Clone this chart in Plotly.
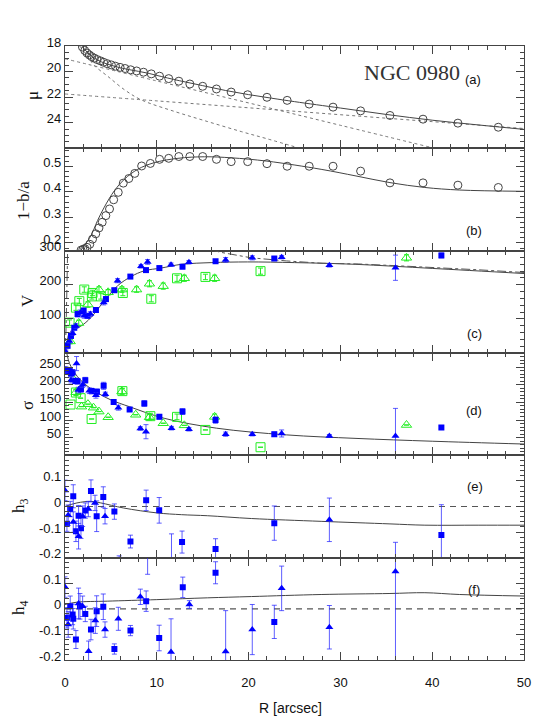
import plotly.graph_objects as go
from plotly.subplots import make_subplots

# ---------------- (a) surface brightness ----------------
mu_r = [1.9, 2.15, 2.4, 2.65, 2.9, 3.2, 3.5, 3.85, 4.2, 4.6, 5.05, 5.5, 6.0, 6.55, 7.15,
        7.8, 8.55, 9.4, 10.3, 11.3, 12.4, 13.6, 15.0, 16.5, 18.1, 19.9, 22.0, 24.2, 26.6,
        29.2, 32.2, 35.4, 39.0, 42.8, 47.2]
mu_obs = [18.08, 18.35, 18.55, 18.70, 18.83, 18.95, 19.06, 19.16, 19.27, 19.38, 19.48, 19.58,
          19.67, 19.76, 19.86, 19.95, 20.05, 20.18, 20.36, 20.55, 20.75, 20.97, 21.15, 21.36,
          21.60, 21.81, 22.01, 22.25, 22.54, 22.78, 23.07, 23.43, 23.72, 24.03, 24.35]
mu_tot_r = [1.4, 1.9, 2.5, 3.0, 4.0, 5.0, 6.0, 7.0, 8.0, 9.0, 10.0, 12.5, 15.0, 17.5, 20.0,
            22.5, 25.0, 30.0, 35.0, 40.0, 45.0, 50.0]
mu_tot = [17.6, 18.05, 18.55, 18.85, 19.25, 19.5, 19.7, 19.85, 19.98, 20.12, 20.3, 20.72,
          21.1, 21.48, 21.8, 22.08, 22.35, 22.85, 23.35, 23.8, 24.17, 24.52]
bulge_r = [1.6, 2.4, 3.19, 4.64, 6.46, 8.28, 11.9, 15.5, 19.2, 22.0, 25.6]
bulge_mu = [18.0, 18.75, 19.52, 20.36, 21.41, 22.2, 23.11, 23.9, 24.69, 25.25, 26.0]
inner_r = [0.0, 10.1, 20.0, 30.0, 40.0]
inner_mu = [19.0, 20.75, 22.45, 24.2, 25.95]
outer_r = [0.0, 10.0, 24.6, 39.2, 50.0]
outer_mu = [21.75, 22.29, 23.08, 23.87, 24.45]

# ---------------- (b) ellipticity ----------------
ell_r = [1.75, 1.95, 2.15, 2.4, 2.7, 3.0, 3.35, 3.7, 4.05, 4.45, 4.85, 5.3, 5.8, 6.35, 6.95,
         7.6, 8.35, 9.3, 10.3, 11.3, 12.4, 13.6, 15.0, 16.5, 18.1, 19.9, 22.0, 24.2, 26.6,
         29.2, 32.2, 35.4, 39.0, 42.8, 47.2]
ell_obs = [0.172, 0.175, 0.178, 0.183, 0.195, 0.215, 0.236, 0.259, 0.281, 0.307, 0.333, 0.369,
           0.398, 0.434, 0.452, 0.472, 0.501, 0.511, 0.527, 0.531, 0.538, 0.538, 0.538, 0.527,
           0.518, 0.518, 0.51, 0.50, 0.50, 0.50, 0.481, 0.435, 0.435, 0.426, 0.417]
ell_mod_r = [1.7, 2.1, 2.83, 3.55, 4.28, 5.37, 6.46, 7.92, 9.73, 12.3, 15.2, 18.1, 22.0, 27.9,
             31.7, 35.4, 39.2, 43.0, 50.0]
ell_mod = [0.17, 0.19, 0.229, 0.288, 0.34, 0.404, 0.449, 0.488, 0.514, 0.531, 0.537, 0.533,
           0.52, 0.488, 0.462, 0.436, 0.417, 0.407, 0.402]

# ---------------- (c) rotation velocity ----------------
v_sq_r = [0.28, 0.65, 1.01, 1.37, 2.03, 2.46, 3.37, 4.46, 5.37, 7.12, 8.82, 10.28, 12.8, 16.4, 22.8, 41.0]
v_sq = [21, 50, 74, 114, 124, 109, 126, 158, 184, 224, 243, 249, 253, 269, 277, 286]
v_sq_err = [5, 6, 6, 8, 8, 7, 7, 7, 6, 5, 5, 5, 6, 5, 5, 7]
v_tr_r = [0.1, 0.47, 0.83, 1.19, 1.66, 2.1, 2.76, 4.21, 5.73, 8.28, 9.0, 11.55, 13.5, 17.5, 20.4, 23.6, 28.8, 36.0]
v_tr = [3, 35, 58, 79, 118, 109, 114, 148, 212, 254, 267, 259, 266, 273, 279, 281, 257, 250]
v_tr_err = [6, 6, 6, 7, 8, 7, 7, 7, 6, 5, 7, 5, 5, 7, 6, 5, 5, 37]
vg_sq_r = [0.5, 1.19, 1.56, 2.1, 2.93, 3.0, 3.9, 6.3, 9.4, 12.2, 15.3, 21.3]
vg_sq = [89, 133, 152, 186, 166, 176, 166, 176, 159, 219, 223, 240]
vg_sq_err = [8, 8, 8, 8, 8, 8, 8, 8, 9, 9, 8, 9]
vg_tr_r = [0.57, 1.5, 2.5, 3.7, 4.7, 6.2, 7.8, 9.2, 10.7, 13.0, 16.3, 37.2]
vg_tr = [34, 88, 142, 186, 178, 186, 186, 203, 196, 219, 219, 279]
vg_tr_err = [7, 8, 8, 8, 8, 8, 8, 9, 9, 9, 9, 9]
v_mod_r = [0.0, 0.2, 0.47, 1.0, 1.74, 2.83, 4.28, 5.73, 7.19, 8.64, 10.46, 12.7, 16.0, 19.9,
           25.0, 31.6, 40.0, 50.0]
v_mod = [0, 30, 58, 70, 79, 104, 153, 197, 224, 241, 249, 260, 265, 267, 265, 260, 248, 233]
v_circ_r = [0.0, 0.1, 0.2, 0.3, 15.5, 17.0, 20.3, 24.1, 28.0, 32.0, 36.0, 40.0, 45.0, 50.0]
v_circ = [0, 60, 180, 320, 305, 295, 279, 270, 263, 261, 256, 251, 244, 236]

# ---------------- (d) velocity dispersion ----------------
s_sq_r = [0.28, 0.5, 0.65, 0.83, 1.12, 1.37, 1.74, 2.21, 2.9, 3.48, 4.21, 5.3, 7.04, 8.64,
          10.28, 12.8, 16.4, 22.8, 41.0]
s_sq = [240, 238, 232, 235, 211, 210, 187, 213, 182, 180, 197, 151, 130, 147, 109, 124, 100, 60, 79]
s_sq_err = [8, 8, 8, 8, 8, 8, 8, 8, 8, 8, 10, 6, 5, 8, 6, 8, 9, 6, 4]
s_tr_r = [0.1, 0.65, 1.26, 1.45, 1.92, 2.65, 3.37, 4.39, 5.81, 8.21, 8.82, 11.6, 13.5, 17.5,
          20.4, 23.6, 28.8, 36.0]
s_tr = [243, 213, 260, 185, 200, 183, 170, 173, 135, 76, 67, 77, 74, 60, 60, 62, 55, 55]
s_tr_err = [8, 8, 20, 8, 8, 8, 8, 6, 7, 5, 20, 5, 5, 6, 5, 10, 4, 78]
sg_sq_r = [0.6, 1.19, 1.7, 2.9, 6.25, 9.3, 12.2, 15.3, 21.3]
sg_sq = [144, 178, 162, 103, 182, 111, 109, 72, 23]
sg_sq_err = [0, 8, 0, 0, 8, 8, 8, 0, 0]
sg_tr_r = [0.9, 1.2, 1.8, 2.5, 3.1, 3.7, 4.7, 6.2, 7.7, 9.2, 10.7, 13.0, 16.3, 37.2]
sg_tr = [216, 179, 138, 145, 135, 124, 108, 181, 115, 108, 91, 85, 109, 86]
sg_tr_err = [0, 8, 0, 0, 0, 0, 0, 8, 0, 8, 0, 0, 8, 0]
s_mod_r = [0.19, 0.5, 1.33, 2.5, 3.6, 5.0, 7.0, 10.8, 16.5, 24.1, 31.7, 40.0, 50.0]
s_mod = [290, 260, 224, 195, 176, 157, 138, 105, 77, 58, 48, 40, 32]

# ---------------- (e) h3 ----------------
h3_sq_r = [0.21, 0.57, 0.9, 1.19, 1.48, 1.74, 2.21, 2.83, 3.45, 4.17, 5.38, 7.13, 8.84, 10.26,
           12.75, 16.4, 22.8, 41.0]
h3_sq = [-0.067, -0.01, 0.04, -0.097, -0.036, -0.085, -0.016, 0.061, -0.038, 0.037, -0.02,
         -0.137, 0.024, -0.015, -0.139, -0.166, -0.065, -0.111]
h3_sq_err = [0.03, 0.03, 0.045, 0.04, 0.04, 0.04, 0.03, 0.043, 0.06, 0.04, 0.03, 0.025, 0.04,
             0.05, 0.043, 0.04, 0.067, 0.118]
h3_tr_r = [0.0, 0.35, 0.9, 1.48, 1.92, 2.54, 3.27, 4.36, 5.9, 11.6, 28.8, 36.0]
h3_tr = [0.063, -0.034, -0.061, -0.116, -0.038, -0.01, 0.014, -0.038, -0.26, -0.28, -0.052, -0.33]
h3_tr_err = [0.04, 0.04, 0.04, 0.05, 0.04, 0.03, 0.03, 0.03, 0.067, 0.173, 0.085, 0.19]
h3_mod_r = [0.0, 1.3, 2.83, 3.9, 6.4, 10.0, 12.7, 15.5, 20.3, 27.9, 35.4, 39.2, 45.0, 50.0]
h3_mod = [0.0, 0.014, 0.02, 0.014, -0.006, -0.025, -0.032, -0.036, -0.047, -0.058, -0.068,
          -0.073, -0.073, -0.073]

# ---------------- (f) h4 ----------------
h4_sq_r = [0.21, 0.57, 0.83, 0.9, 1.19, 1.63, 2.21, 2.83, 3.45, 4.17, 5.38, 7.13, 8.84, 10.26,
           12.83, 16.4, 22.8]
h4_sq = [-0.035, 0.01, -0.022, -0.039, -0.12, 0.01, -0.02, -0.081, -0.009, 0.008, -0.157,
         -0.085, 0.03, -0.114, 0.084, 0.141, -0.051]
h4_sq_err = [0.04, 0.04, 0.04, 0.04, 0.035, 0.05, 0.03, 0.04, 0.06, 0.05, 0.02, 0.02, 0.04,
             0.05, 0.04, 0.043, 0.065]
h4_tr_r = [0.0, 0.35, 1.48, 1.92, 2.57, 3.3, 4.36, 5.81, 8.21, 9.0, 11.55, 13.55, 17.5, 20.4,
           23.6, 28.8, 36.0]
h4_tr = [0.085, -0.061, 0.021, 0.01, -0.166, -0.046, -0.081, -0.039, 0.047, 0.26, -0.169,
         0.017, -0.167, -0.081, 0.08, -0.072, 0.146]
h4_tr_err = [0.04, 0.05, 0.06, 0.04, 0.04, 0.05, 0.03, 0.045, 0.03, 0.125, 0.13, 0.015, 0.16,
             0.098, 0.087, 0.085, 0.35]
h4_mod_r = [0.0, 1.3, 4.6, 10.0, 15.5, 20.3, 27.9, 35.4, 39.2, 43.0, 50.0]
h4_mod = [0.017, 0.026, 0.03, 0.036, 0.043, 0.048, 0.056, 0.06, 0.063, 0.056, 0.05]

W, H = 545, 726
ML, MR, MT, MB = 57, 29, 38, 74

BLUE = "#0000ff"
EBLUE = "rgba(40,40,255,0.75)"
GREEN = "#22ee22"
LINE = "#444444"
SANS = "Liberation Sans, Arial, sans-serif"
SERIF = "Liberation Serif, Times New Roman, serif"


def paper(x, y):
    return (x - ML) / (W - ML - MR), 1 - (y - MT) / (H - MT - MB)


fig = make_subplots(rows=6, cols=1, shared_xaxes=True, vertical_spacing=0)


def line(row, x, y, dash="solid", color=LINE, width=1):
    fig.add_trace(go.Scatter(x=x, y=y, mode="lines", line=dict(color=color, width=width, dash=dash),
                             line_shape="spline", showlegend=False, hoverinfo="skip"), row=row, col=1)


def pts(row, x, y, err, symbol, color, ecolor, size, open_=False):
    marker = dict(symbol=symbol, size=size, color=color)
    if open_:
        marker["line"] = dict(color=color, width=1)
    fig.add_trace(go.Scatter(
        x=x, y=y, mode="markers", marker=marker, showlegend=False,
        error_y=dict(type="data", array=err, color=ecolor, thickness=1, width=2.5)
    ), row=row, col=1)


# (a)
line(1, inner_r, inner_mu, dash="dot", color="#777777")
line(1, outer_r, outer_mu, dash="dot", color="#777777")
line(1, bulge_r, bulge_mu, dash="dot", color="#777777")
line(1, mu_tot_r, mu_tot)
fig.add_trace(go.Scatter(x=mu_r, y=mu_obs, mode="markers", showlegend=False,
                         marker=dict(symbol="circle-open", size=8, color=LINE, line=dict(width=1))),
              row=1, col=1)
# (b)
line(2, ell_mod_r, ell_mod)
fig.add_trace(go.Scatter(x=ell_r, y=ell_obs, mode="markers", showlegend=False,
                         marker=dict(symbol="circle-open", size=8, color=LINE, line=dict(width=1))),
              row=2, col=1)
# (c)
line(3, v_mod_r, v_mod)
fig.add_trace(go.Scatter(x=v_circ_r, y=v_circ, mode="lines", showlegend=False,
                         line=dict(color="#555555", width=1, dash="dashdot")), row=3, col=1)
pts(3, vg_sq_r, vg_sq, vg_sq_err, "square-open", GREEN, GREEN, 9, True)
pts(3, vg_tr_r, vg_tr, vg_tr_err, "triangle-up-open", GREEN, GREEN, 9, True)
pts(3, v_sq_r, v_sq, v_sq_err, "square", BLUE, EBLUE, 6)
pts(3, v_tr_r, v_tr, v_tr_err, "triangle-up", BLUE, EBLUE, 7)
# (d)
line(4, s_mod_r, s_mod)
pts(4, sg_sq_r, sg_sq, sg_sq_err, "square-open", GREEN, GREEN, 9, True)
pts(4, sg_tr_r, sg_tr, sg_tr_err, "triangle-up-open", GREEN, GREEN, 9, True)
pts(4, s_sq_r, s_sq, s_sq_err, "square", BLUE, EBLUE, 6)
pts(4, s_tr_r, s_tr, s_tr_err, "triangle-up", BLUE, EBLUE, 7)
# (e)
line(5, [0, 50], [0, 0], dash="6px,5px", color="#555555", width=1.2)
line(5, h3_mod_r, h3_mod)
pts(5, h3_sq_r, h3_sq, h3_sq_err, "square", BLUE, EBLUE, 6)
pts(5, h3_tr_r, h3_tr, h3_tr_err, "triangle-up", BLUE, EBLUE, 7)
# (f)
line(6, [0, 50], [0, 0], dash="6px,5px", color="#555555", width=1.2)
line(6, h4_mod_r, h4_mod)
pts(6, h4_sq_r, h4_sq, h4_sq_err, "square", BLUE, EBLUE, 6)
pts(6, h4_tr_r, h4_tr, h4_tr_err, "triangle-up", BLUE, EBLUE, 7)

axis_common = dict(showline=True, linecolor=LINE, linewidth=1.2, mirror="allticks",
                   ticks="inside", ticklen=8, tickcolor=LINE, tickwidth=1,
                   showgrid=False, zeroline=False,
                   tickfont=dict(family=SANS, size=13, color="#111111"))

for i in range(1, 7):
    fig.update_xaxes(range=[0, 50], dtick=10, tick0=0,
                     minor=dict(dtick=2, ticklen=4, ticks="inside", tickcolor=LINE, showgrid=False),
                     showticklabels=(i == 6), ticklabelstandoff=10, row=i, col=1, **axis_common)

yspecs = [
    dict(range=[26, 18], tickvals=[18, 20, 22, 24], minor=0.5),
    dict(range=[0.17, 0.57], tickvals=[0.2, 0.3, 0.4, 0.5], minor=0.02),
    dict(range=[0, 300], tickvals=[100, 200, 300], minor=20),
    dict(range=[0, 290], tickvals=[50, 100, 150, 200, 250], minor=10),
    dict(range=[-0.2, 0.2], tickvals=[-0.2, -0.1, 0, 0.1], minor=0.02),
    dict(range=[-0.2, 0.2], tickvals=[-0.2, -0.1, 0, 0.1], minor=0.02),
]
for i, s in enumerate(yspecs, start=1):
    fig.update_yaxes(range=s["range"], tickvals=s["tickvals"],
                     ticktext=[("%g" % v) for v in s["tickvals"]],
                     minor=dict(dtick=s["minor"], ticklen=4, ticks="inside", tickcolor=LINE,
                                showgrid=False),
                     ticklabelshift=-4 if i != 1 else 4,
                     row=i, col=1, **axis_common)

ann = []


def text(x, y, s, size=13, family=SANS, angle=0, xanchor="center", color="#111111"):
    px_, py_ = paper(x, y)
    ann.append(dict(x=px_, y=py_, xref="paper", yref="paper", text=s, showarrow=False,
                    textangle=angle, xanchor=xanchor, yanchor="middle",
                    font=dict(family=family, size=size, color=color)))


text(404, 64, "NGC 0980", size=22, family=SERIF, color="#333333")
text(465, 71, "(a)")
text(466, 222, "(b)")
text(466, 325, "(c)")
text(466, 402, "(d)")
text(467, 478, "(e)")
text(466, 581, "(f)")
text(24, 88, "μ", size=17, family=SERIF, angle=-90)
text(15, 193, "1−b/a", size=17, family=SERIF, angle=-90)
text(19, 293, "V", size=17, family=SERIF, angle=-90)
text(19, 398, "σ", size=17, family=SERIF, angle=-90)
text(12, 498, "h<sub>3</sub>", size=17, family=SERIF, angle=-90)
text(12, 600, "h<sub>4</sub>", size=17, family=SERIF, angle=-90)
text(282, 700, "R [arcsec]", size=14)

fig.update_layout(width=W, height=H, margin=dict(l=ML, r=MR, t=MT, b=MB),
                  paper_bgcolor="white", plot_bgcolor="white", annotations=ann,
                  showlegend=False)

fig.write_html("out.html")
